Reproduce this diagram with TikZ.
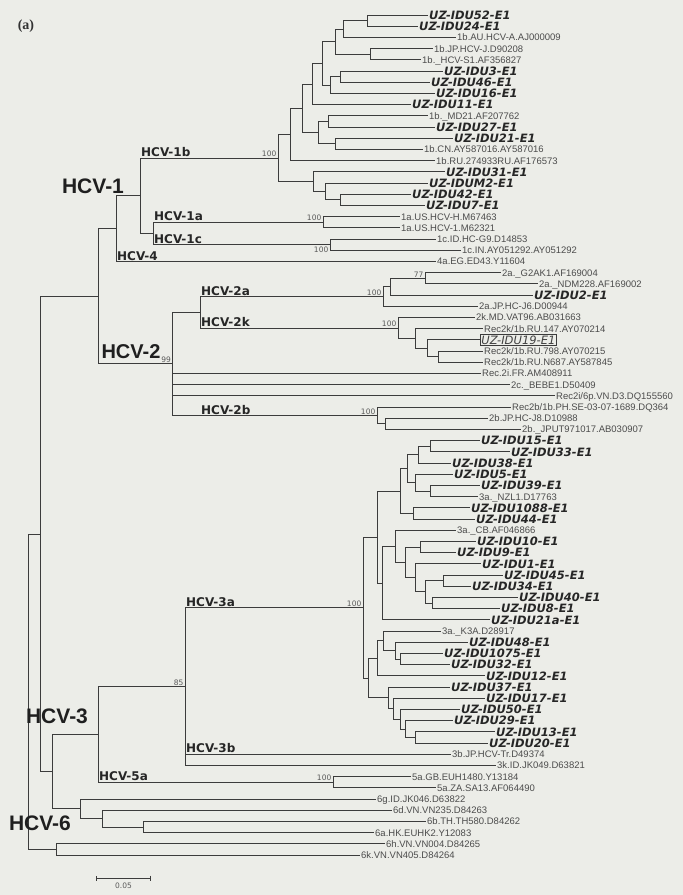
\documentclass[tikz,border=0pt]{standalone}
\usepackage{fontspec}
\setmainfont{DejaVu Sans}
\newfontfamily\arialfont{Liberation Sans}
\newfontfamily\timesfont{Liberation Serif}
\usetikzlibrary{positioning,calc,arrows.meta}
\definecolor{paper}{RGB}{236,237,232}
\definecolor{ink}{RGB}{60,60,60}
\newcommand{\clade}[4]{%
  \path ($(#3)!0.5!(#4)$) coordinate (#1-m);
  \coordinate (#1) at (#2,0 |- #1-m);
  \draw[branch] (#1) |- (#3);
  \draw[branch] (#1) |- (#4);}

\begin{document}
\begin{tikzpicture}[
  x=1pt,y=-1pt,
  branch/.style={draw=ink,line width=0.75pt},
  uz/.style={anchor=west,inner sep=1pt,font=\fontsize{11.5}{12}\selectfont\bfseries\itshape,text=black!85,text height=8.4pt,text depth=0pt},
  uzbox/.style={anchor=west,inner sep=1.2pt,draw=ink,line width=0.5pt,font=\fontsize{11.5}{12}\selectfont\itshape,text=black!75,text height=8.4pt,text depth=0pt},
  ref/.style={anchor=west,inner sep=1pt,font=\arialfont\fontsize{9.5}{10}\selectfont,text=black!70,text height=6.8pt,text depth=0pt},
  boot/.style={inner sep=0.5pt,font=\fontsize{7.5}{8}\selectfont,text=black!65},
  subtype/.style={anchor=south west,inner sep=1pt,font=\fontsize{12}{12}\selectfont\bfseries,text=black!85},
  genotype/.style={inner sep=0pt,font=\arialfont\fontsize{21}{21}\selectfont\bfseries,text=black!88}
]
\useasboundingbox[fill=paper] (0,0) rectangle (683,895);

\node[font=\timesfont\fontsize{14}{14}\selectfont\bfseries,text=black!80] (panel) at (26,26) {(a)};

\node[uz]  (l1)  at (428,15.0)  {UZ-IDU52-E1};
\node[uz]  (l2)  at (418,26.2)  {UZ-IDU24-E1};
\node[ref] (l3)  at (456,37.4)  {1b.AU.HCV-A.AJ000009};
\node[ref] (l4)  at (433,48.6)  {1b.JP.HCV-J.D90208};
\node[ref] (l5)  at (421,59.8)  {1b.\_HCV-S1.AF356827};
\node[uz]  (l6)  at (443,71.0)  {UZ-IDU3-E1};
\node[uz]  (l7)  at (430,82.2)  {UZ-IDU46-E1};
\node[uz]  (l8)  at (435,93.4)  {UZ-IDU16-E1};
\node[uz]  (l9)  at (411,104.6) {UZ-IDU11-E1};
\node[ref] (l10) at (428,115.8) {1b.\_MD21.AF207762};
\node[uz]  (l11) at (435,127.0) {UZ-IDU27-E1};
\node[uz]  (l12) at (453,138.2) {UZ-IDU21-E1};
\node[ref] (l13) at (423,149.4) {1b.CN.AY587016.AY587016};
\node[ref] (l14) at (435,160.6) {1b.RU.274933RU.AF176573};
\node[uz]  (l15) at (445,171.8) {UZ-IDU31-E1};
\node[uz]  (l16) at (428,183.0) {UZ-IDUM2-E1};
\node[uz]  (l17) at (411,194.2) {UZ-IDU42-E1};
\node[uz]  (l18) at (425,205.4) {UZ-IDU7-E1};
\node[ref] (l19) at (400,216.6) {1a.US.HCV-H.M67463};
\node[ref] (l20) at (400,227.8) {1a.US.HCV-1.M62321};
\node[ref] (l21) at (436,239.0) {1c.ID.HC-G9.D14853};
\node[ref] (l22) at (461,250.2) {1c.IN.AY051292.AY051292};
\node[ref] (l23) at (436,261.4) {4a.EG.ED43.Y11604};
\node[ref] (l24) at (501,272.6) {2a.\_G2AK1.AF169004};
\node[ref] (l25) at (538,283.8) {2a.\_NDM228.AF169002};
\node[uz]  (l26) at (533,295.0) {UZ-IDU2-E1};
\node[ref] (l27) at (478,306.2) {2a.JP.HC-J6.D00944};
\node[ref] (l28) at (475,317.4) {2k.MD.VAT96.AB031663};
\node[ref] (l29) at (483,328.6) {Rec2k/1b.RU.147.AY070214};
\node[uzbox] (l30) at (480,339.8) {UZ-IDU19-E1};
\node[ref] (l31) at (483,351.0) {Rec2k/1b.RU.798.AY070215};
\node[ref] (l32) at (483,362.2) {Rec2k/1b.RU.N687.AY587845};
\node[ref] (l33) at (481,373.4) {Rec.2i.FR.AM408911};
\node[ref] (l34) at (510,384.6) {2c.\_BEBE1.D50409};
\node[ref] (l35) at (555,395.8) {Rec2i/6p.VN.D3.DQ155560};
\node[ref] (l36) at (511,407.0) {Rec2b/1b.PH.SE-03-07-1689.DQ364};
\node[ref] (l37) at (488,418.2) {2b.JP.HC-J8.D10988};
\node[ref] (l38) at (521,429.4) {2b.\_JPUT971017.AB030907};
\node[uz]  (l39) at (480,440.6) {UZ-IDU15-E1};
\node[uz]  (l40) at (510,451.8) {UZ-IDU33-E1};
\node[uz]  (l41) at (451,463.0) {UZ-IDU38-E1};
\node[uz]  (l42) at (453,474.2) {UZ-IDU5-E1};
\node[uz]  (l43) at (480,485.4) {UZ-IDU39-E1};
\node[ref] (l44) at (478,496.6) {3a.\_NZL1.D17763};
\node[uz]  (l45) at (470,507.8) {UZ-IDU1088-E1};
\node[uz]  (l46) at (475,519.0) {UZ-IDU44-E1};
\node[ref] (l47) at (456,530.2) {3a.\_CB.AF046866};
\node[uz]  (l48) at (476,541.4) {UZ-IDU10-E1};
\node[uz]  (l49) at (456,552.6) {UZ-IDU9-E1};
\node[uz]  (l50) at (481,563.8) {UZ-IDU1-E1};
\node[uz]  (l51) at (503,575.0) {UZ-IDU45-E1};
\node[uz]  (l52) at (471,586.2) {UZ-IDU34-E1};
\node[uz]  (l53) at (518,597.4) {UZ-IDU40-E1};
\node[uz]  (l54) at (500,608.6) {UZ-IDU8-E1};
\node[uz]  (l55) at (490,619.8) {UZ-IDU21a-E1};
\node[ref] (l56) at (441,631.0) {3a.\_K3A.D28917};
\node[uz]  (l57) at (468,642.2) {UZ-IDU48-E1};
\node[uz]  (l58) at (443,653.4) {UZ-IDU1075-E1};
\node[uz]  (l59) at (450,664.6) {UZ-IDU32-E1};
\node[uz]  (l60) at (485,675.8) {UZ-IDU12-E1};
\node[uz]  (l61) at (450,687.0) {UZ-IDU37-E1};
\node[uz]  (l62) at (485,698.2) {UZ-IDU17-E1};
\node[uz]  (l63) at (460,709.4) {UZ-IDU50-E1};
\node[uz]  (l64) at (453,720.6) {UZ-IDU29-E1};
\node[uz]  (l65) at (495,731.8) {UZ-IDU13-E1};
\node[uz]  (l66) at (488,743.0) {UZ-IDU20-E1};
\node[ref] (l67) at (451,754.2) {3b.JP.HCV-Tr.D49374};
\node[ref] (l68) at (496,765.4) {3k.ID.JK049.D63821};
\node[ref] (l69) at (411,776.6) {5a.GB.EUH1480.Y13184};
\node[ref] (l70) at (436,787.8) {5a.ZA.SA13.AF064490};
\node[ref] (l71) at (376,799.0) {6g.ID.JK046.D63822};
\node[ref] (l72) at (392,810.2) {6d.VN.VN235.D84263};
\node[ref] (l73) at (426,821.4) {6b.TH.TH580.D84262};
\node[ref] (l74) at (374,832.6) {6a.HK.EUHK2.Y12083};
\node[ref] (l75) at (385,843.8) {6h.VN.VN004.D84265};
\node[ref] (l76) at (360,855.0) {6k.VN.VN405.D84264};

\clade{c1}{367}{l1}{l2}
\clade{c2}{343}{c1}{l3}
\clade{c3}{370}{l4}{l5}
\clade{c4}{335}{c2}{c3}
\clade{c5}{340}{l6}{l7}
\clade{c6}{330}{c5}{l8}
\clade{c7}{322}{c4}{c6}
\clade{c8}{312}{c7}{l9}
\clade{c10}{328}{l10}{l11}
\clade{c12}{335}{l12}{l13}
\clade{c13}{318}{c10}{c12}
\clade{c9}{302}{c8}{c13}
\clade{c11}{290}{c9}{l14}
\clade{c15}{340}{l17}{l18}
\clade{c16}{325}{l16}{c15}
\clade{c14}{313}{l15}{c16}
\clade{n1b}{278}{c11}{c14}
\clade{n1a}{323}{l19}{l20}
\clade{n1c}{330}{l21}{l22}
\clade{n1ac}{153}{n1a}{n1c}
\clade{hcv1}{140}{n1b}{n1ac}
\clade{hcv14}{116}{hcv1}{l23}

\clade{n2a1}{425}{l24}{l25}
\clade{n2a2}{390}{n2a1}{l26}
\clade{n2a}{383}{n2a2}{l27}
\clade{n2k1}{438}{l31}{l32}
\clade{n2k2}{427}{l30}{n2k1}
\clade{n2k3}{415}{l29}{n2k2}
\clade{n2k}{398}{l28}{n2k3}
\clade{n2ak}{200}{n2a}{n2k}
\clade{n2bi}{385}{l37}{l38}
\clade{n2b}{377}{l36}{n2bi}
\path ($(n2ak)!0.5!(n2b)$) coordinate (hcv2-m);
\coordinate (hcv2) at (172,0 |- hcv2-m);
\foreach \c in {n2ak,l33,l34,l35,n2b}
  \draw[branch] (hcv2) |- (\c);
\clade{hcv124}{98}{hcv14}{hcv2}

\clade{u1}{430}{l39}{l40}
\clade{u2}{418}{u1}{l41}
\clade{u3}{430}{l43}{l44}
\clade{u4}{415}{l42}{u3}
\clade{u5}{407}{u2}{u4}
\clade{u6}{413}{l45}{l46}
\clade{u7}{400}{u5}{u6}
\clade{u8}{420}{l48}{l49}
\clade{u9}{443}{l51}{l52}
\clade{u10}{432}{l53}{l54}
\clade{u11}{425}{u9}{u10}
\clade{u12}{415}{l50}{u11}
\clade{u13}{405}{u8}{u12}
\clade{u14}{395}{l47}{u13}
\clade{u15}{382}{u14}{l55}
\clade{u16}{377}{u7}{u15}
\clade{w1}{400}{l58}{l59}
\clade{w2}{395}{l57}{w1}
\clade{w3}{383}{l56}{w2}
\clade{w4}{377}{w3}{l60}
\clade{w5}{415}{l65}{l66}
\clade{w6}{405}{l64}{w5}
\clade{w7}{400}{l63}{w6}
\clade{w8}{393}{l62}{w7}
\clade{w9}{388}{l61}{w8}
\clade{w10}{368}{w4}{w9}
\clade{n3a}{363}{u16}{w10}
\path ($(n3a)!0.5!(l68)$) coordinate (hcv3-m);
\coordinate (hcv3) at (185,0 |- hcv3-m);
\foreach \c in {n3a,l67,l68}
  \draw[branch] (hcv3) |- (\c);
\clade{n5a}{333}{l69}{l70}
\clade{hcv35}{98}{hcv3}{n5a}

\clade{n6ba}{143}{l73}{l74}
\clade{n6d}{102}{l72}{n6ba}
\clade{n6g}{80}{l71}{n6d}
\clade{nB}{52}{hcv35}{n6g}
\clade{nA}{40}{hcv124}{nB}
\clade{n6hk}{56}{l75}{l76}
\clade{root}{28}{nA}{n6hk}

\node[boot,above left=0.5pt and 1pt of n1b] (b1b) {100};
\node[boot,above left=0.5pt and 1pt of n1a] (b1a) {100};
\node[boot,below left=2pt and 1pt of n1c] (b1c) {100};
\node[boot,above left=0.5pt and 1pt of n2a1] (b2a1) {77};
\node[boot,above left=0.5pt and 1pt of n2a] (b2a) {100};
\node[boot,above left=0.5pt and 1pt of n2k] (b2k) {100};
\node[boot,above left=0.5pt and 0.5pt of hcv2] (b2) {99};
\node[boot,above left=0.5pt and 1pt of n2b] (b2b) {100};
\node[boot,above left=0.5pt and 1pt of n3a] (b3a) {100};
\node[boot,above left=0.5pt and 1pt of hcv3] (b3) {85};
\node[boot,above left=0.5pt and 1pt of n5a] (b5a) {100};

\node[subtype] (t1b) at (hcv1 |- n1b) {HCV-1b};
\node[subtype] (t1a) at (n1ac |- n1a) {HCV-1a};
\node[subtype] (t1c) at (n1ac |- n1c) {HCV-1c};
\node[subtype] (t4) at (hcv14 |- l23) {HCV-4};
\node[subtype] (t2a) at (n2ak |- n2a) {HCV-2a};
\node[subtype] (t2k) at (n2ak |- n2k) {HCV-2k};
\node[subtype,xshift=28pt] (t2b) at (hcv2 |- n2b) {HCV-2b};
\node[subtype] (t3a) at (hcv3 |- n3a) {HCV-3a};
\node[subtype] (t3b) at (hcv3 |- l67) {HCV-3b};
\node[subtype] (t5a) at (hcv35 |- n5a) {HCV-5a};

\node[genotype] (g1) at (93,186) {HCV-1};
\node[genotype,font=\arialfont\fontsize{20}{20}\selectfont\bfseries] (g2) at (131,352) {HCV-2};
\node[genotype] (g3) at (57,716) {HCV-3};
\node[genotype] (g6) at (40,823) {HCV-6};

\coordinate (sbl) at (96,878);
\coordinate (sbr) at (151,878);
\draw[branch,{Bar[width=5pt]}-{Bar[width=5pt]}] (sbl) -- (sbr);
\node[boot,below=4pt] (sbt) at ($(sbl)!0.5!(sbr)$) {0.05};
\end{tikzpicture}
\end{document}
